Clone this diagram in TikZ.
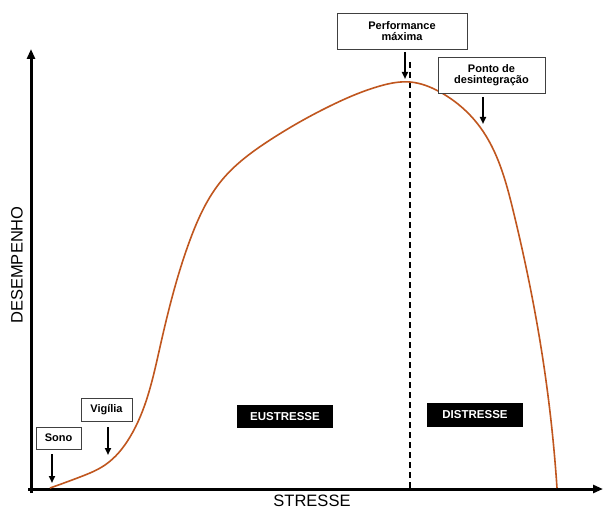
\documentclass[tikz,border=0pt]{standalone}
\usepackage{fontspec}
\setmainfont{Liberation Sans}
\usetikzlibrary{arrows.meta,hobby}
\definecolor{curvec}{HTML}{C0561E}
\begin{document}
\begin{tikzpicture}[x=1pt,y=-1pt,
  lbox/.style={draw=black!75,fill=white,line width=0.8pt,inner sep=0pt,align=center,font=\fontsize{11}{11.5}\selectfont\bfseries},
  dbox/.style={fill=black,text=white,inner sep=0pt,font=\fontsize{11.5}{12}\selectfont\bfseries},
  axis/.style={line width=3pt,-{Triangle[length=10pt,width=8pt]}},
  pt/.style={line width=1.8pt,-{Triangle[length=7pt,width=6pt]}},
  axlabel/.style={font=\fontsize{16.5}{18}\selectfont}]
\useasboundingbox (0,0) rectangle (603,508);
\fill[white] (0,0) rectangle (603,508);
% axes
\coordinate (ybot) at (31,493);
\coordinate (ytop) at (31,49);
\coordinate (xl) at (28,489);
\coordinate (xr) at (603,489);
\draw[axis] (ybot) -- (ytop);
\draw[axis] (xl) -- (xr);
\node[axlabel,rotate=90] (ylab) at (17,265) {DESEMPENHO};
\node[axlabel,anchor=base,inner sep=0pt,text depth=0pt] (xlab) at (312,506) {STRESSE};
% dashed line
\coordinate (dtop) at (410,62);
\coordinate (dbot) at (410,488);
\draw[line width=1.5pt,dash pattern=on 6pt off 4pt] (dtop) -- (dbot);
% curve
\draw[curvec,line width=1.6pt,use Hobby shortcut]
(50,488) .. (80,477) .. (105,465) .. (130,437) .. (160,347) .. (190,240)
.. (222,180) .. (270,140) .. (330,106) .. (380,86) .. (410,82) .. (440,92)
.. (480,127) .. (513,210) .. (543,360) .. (557,488);
% boxes
\node[lbox,minimum width=45pt,minimum height=22pt] (sono) at (58.5,438) {Sono};
\node[lbox,minimum width=51pt,minimum height=23pt] (vig) at (106.5,409.5) {Vigília};
\node[lbox,minimum width=130pt,minimum height=36pt] (perf) at (402,31) {Performance\\máxima};
\node[lbox,minimum width=107pt,minimum height=36pt] (ponto) at (491.5,75) {Ponto de\\desintegração};
\node[dbox,minimum width=96pt,minimum height=23pt] (eus) at (285,416.5) {EUSTRESSE};
\node[dbox,minimum width=96pt,minimum height=24pt] (dis) at (475,415) {DISTRESSE};
% pointer arrows
\coordinate (sonoA) at (52,454);
\coordinate (sonoB) at (52,483);
\coordinate (vigA) at (108,427);
\coordinate (vigB) at (108,455);
\coordinate (perfA) at (405,52);
\coordinate (perfB) at (405,79);
\coordinate (pontoA) at (483,97);
\coordinate (pontoB) at (483,124);
\draw[pt] (sonoA) -- (sonoB);
\draw[pt] (vigA) -- (vigB);
\draw[pt] (perfA) -- (perfB);
\draw[pt] (pontoA) -- (pontoB);
\end{tikzpicture}
\end{document}
